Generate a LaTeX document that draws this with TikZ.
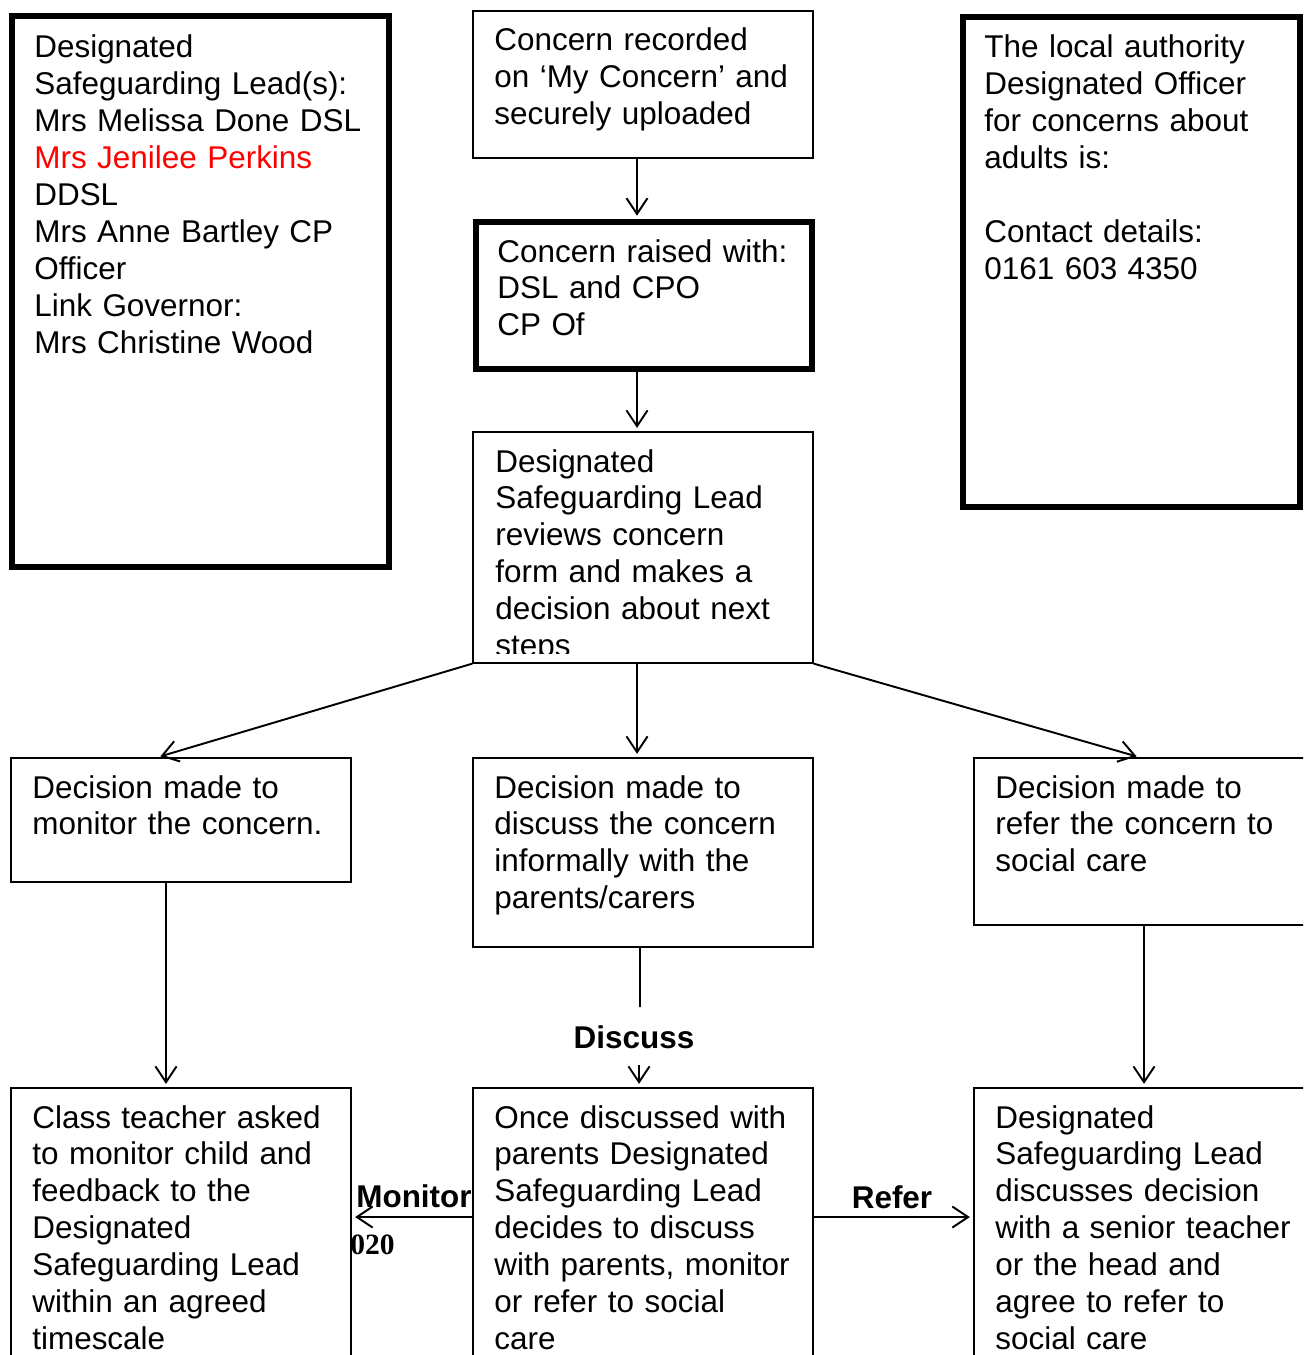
\documentclass[tikz,border=0pt]{standalone}
\usepackage{fontspec}
\setmainfont{Liberation Sans}
\newfontfamily\stampfont{Liberation Serif}
\usetikzlibrary{arrows.meta,fit}

\begin{document}
\begin{tikzpicture}[x=0.02cm,y=-0.02cm,
        box/.style={draw, line width=0.7pt, inner sep=0pt},
        keybox/.style={draw, line width=3.2pt, inner sep=0pt},
        txt/.style={anchor=base west, inner sep=0pt, text width=6.6cm, align=left,
                font=\fontsize{17.9pt}{21pt}\selectfont},
        lbl/.style={anchor=base, inner sep=0pt, font=\fontsize{17.9pt}{21pt}\selectfont\bfseries},
        arr/.style={-{Straight Barb[length=9pt,width=12pt]}, line width=1.1pt, shorten >=2pt}]
        \useasboundingbox (0,0) rectangle (1303,1355);
        \clip (0,0) rectangle (1303,1355);

        % side panels
        \node[keybox, fit={(12,16) (389,567)}] (dsl) {};
        \node[txt, text width=6.9cm] (dslT) at (34,58) {Designated\\Safeguarding Lead(s):\\Mrs Melissa Done DSL\\
                \textcolor{red}{Mrs Jenilee Perkins}\\DDSL\\Mrs Anne Bartley CP\\Officer\\Link Governor:\\Mrs Christine Wood};
        \node[keybox, fit={(963,17) (1300,507)}] (lado) {};
        \node[txt] (ladoT) at (984,58) {The local authority\\Designated Officer\\for concerns about\\adults is:\\[21pt]
                Contact details:\\0161 603 4350};

        % main column
        \node[box, fit={(473,11) (813,158)}] (rec) {};
        \node[txt] (recT) at (494,51) {Concern recorded\\on ‘My Concern’ and\\securely uploaded};
        \node[keybox, fit={(476,222) (812,369)}] (raised) {};
        \node[txt] (raisedT) at (497,262) {Concern raised with:\\DSL and CPO\\CP Of};
        \node[box, fit={(473,432) (813,663)}] (rev) {};
        \begin{scope}
                \clip (473,432) rectangle (813,653);
                \node[txt] (revT) at (495,472) {Designated\\Safeguarding Lead\\reviews concern\\form and makes a\\
                        decision about next\\steps};
        \end{scope}

        % decisions
        \node[box, fit={(11,758) (351,882)}] (mon) {};
        \node[txt] (monT) at (32,798) {Decision made to\\monitor the concern.};
        \node[box, fit={(473,758) (813,947)}] (dis) {};
        \node[txt] (disT) at (494,798) {Decision made to\\discuss the concern\\informally with the\\parents/carers};
        \node[box, fit={(974,758) (1314,925)}] (ref) {};
        \node[txt] (refT) at (995,798) {Decision made to\\refer the concern to\\social care};

        % outcomes
        \node[box, fit={(11,1088) (351,1400)}] (cls) {};
        \node[txt] (clsT) at (32,1128) {Class teacher asked\\to monitor child and\\feedback to the\\Designated\\
                Safeguarding Lead\\within an agreed\\timescale};
        \node[box, fit={(473,1088) (813,1400)}] (once) {};
        \node[txt] (onceT) at (494,1128) {Once discussed with\\parents Designated\\Safeguarding Lead\\decides to discuss\\
                with parents, monitor\\or refer to social\\care};
        \node[box, fit={(974,1088) (1314,1400)}] (dsl2) {};
        \node[txt] (dsl2T) at (995,1128) {Designated\\Safeguarding Lead\\discusses decision\\with a senior teacher\\
                or the head and\\agree to refer to\\social care};

        % connectors
        \draw[arr] ([xshift=-0.12cm]rec.south) -- ([xshift=-0.14cm]raised.north);
        \draw[arr] ([xshift=-0.14cm]raised.south) -- ([xshift=-0.12cm]rev.north);
        \draw[arr] ([xshift=-0.12cm]rev.south) -- ([xshift=-0.12cm]dis.north);
        \draw[arr] (rev.south west) -- ([xshift=-0.48cm]mon.north);
        \draw[arr] (rev.south east) -- ([xshift=-0.08cm]ref.north);
        \draw[arr] ([xshift=-0.3cm]mon.south) -- ([xshift=-0.3cm]cls.north);
        \draw[arr] (ref) -- (dsl2);

        \coordinate (dtop) at (640,1007);
        \coordinate (dbot) at (639,1065);
        \draw[line width=1.1pt] ([xshift=-0.06cm]dis.south) -- (dtop);
        \node[lbl] (discuss) at (634,1048) {Discuss};
        \draw[arr] (dbot) -- ([xshift=-0.08cm]once.north);

        \draw[arr] ([yshift=0.54cm]once.west) -- ([yshift=0.54cm]cls.east);
        \node[lbl] (monitor) at (414,1207) {Monitor};
        \draw[arr] ([yshift=0.54cm]once.east) -- ([yshift=0.54cm]dsl2.west);
        \node[lbl] (refer) at (892,1208) {Refer};
        \node[anchor=base west, inner sep=0pt, font=\stampfont\bfseries\fontsize{16.8pt}{20pt}\selectfont] (stamp)
                at (350,1254) {020};
\end{tikzpicture}
\end{document}
